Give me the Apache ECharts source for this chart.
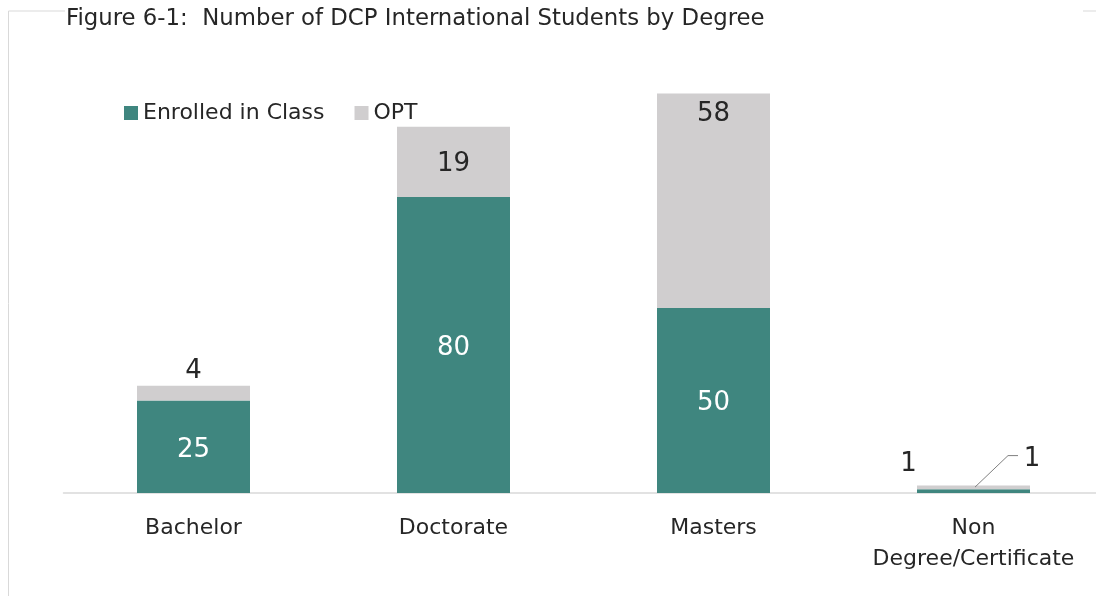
<!DOCTYPE html>
<html>
<head>
<meta charset="utf-8">
<script src="https://cdn.jsdelivr.net/npm/echarts@6/dist/echarts.min.js"></script>
<style>
  html, body { margin: 0; padding: 0; background: #fff; }
  #chart { width: 1096px; height: 596px; }
</style>
</head>
<body>
<div id="chart"></div>
<script>
var degrees = ['Bachelor', 'Doctorate', 'Masters', 'Non\nDegree/Certificate'];
var enrolled = [25, 80, 50, 1];
var opt = [4, 19, 58, 1];

var font = 'DejaVu Sans';
var teal = '#3f867f';
var grey = '#d0cecf';
var ink = '#262626';

var chart = echarts.init(document.getElementById('chart'));

// label placement per bar, the small ones sit outside
var enrolledData = enrolled.map(function (v, i) {
  var d = { value: v };
  if (i == 3) {
    d.label = { position: 'top', color: ink, offset: [-65, -7] };
  }
  return d;
});
var optData = opt.map(function (v, i) {
  var d = { value: v };
  if (i == 0) d.label = { position: 'top', distance: 3 };
  if (i == 2) d.label = { position: 'insideTop', distance: 6 };
  if (i == 3) d.label = { show: false };  // drawn by the callout below
  return d;
});

// callout with leader line for the last OPT value
function renderCallout(params, api) {
  var p = api.coord([api.value(0), api.value(1)]);
  return {
    type: 'group',
    children: [
      {
        type: 'polyline',
        shape: { points: [[p[0] + 1.5, p[1] + 1.5], [p[0] + 34.5, p[1] - 30], [p[0] + 44.5, p[1] - 30]] },
        style: { stroke: '#7f7f7f', lineWidth: 1, fill: null }
      },
      {
        type: 'text',
        x: p[0] + 58.5,
        y: p[1] - 26,
        style: { text: String(api.value(2)), font: '26px "DejaVu Sans"', fill: ink, align: 'center', verticalAlign: 'middle' }
      }
    ]
  };
}

var option = {
  animation: false,
  title: {
    text: 'Figure 6-1:  Number of DCP International Students by Degree',
    left: 61,
    top: 3,
    textStyle: { fontFamily: font, fontSize: 22.8, fontWeight: 'normal', color: ink }
  },
  legend: {
    left: 119,
    top: 97,
    icon: 'rect',
    itemWidth: 14,
    itemHeight: 14,
    itemGap: 30,
    textStyle: { fontFamily: font, fontSize: 22, color: ink },
    data: ['Enrolled in Class', 'OPT']
  },
  graphic: [
    { type: 'polyline', shape: { points: [[65, 11], [8.5, 11], [8.5, 596]] }, style: { stroke: '#d9d9d9', lineWidth: 1, fill: null } },
    { type: 'line', shape: { x1: 1083, y1: 11, x2: 1096, y2: 11 }, style: { stroke: '#d9d9d9', lineWidth: 1 } }
  ],
  grid: { left: 63.5, width: 1040, top: 49, height: 444, outerBoundsMode: 'none' },
  xAxis: {
    type: 'category',
    data: degrees,
    axisLine: { lineStyle: { color: '#d9d9d9', width: 1.5 } },
    axisTick: { show: false },
    axisLabel: { fontFamily: font, fontSize: 22, color: ink, margin: 20, lineHeight: 31, interval: 0 }
  },
  yAxis: { type: 'value', min: 0, max: 120, show: false, splitLine: { show: false } },
  series: [
    {
      name: 'Enrolled in Class',
      type: 'bar',
      stack: 'total',
      barWidth: 113,
      itemStyle: { color: teal },
      label: { show: true, position: 'inside', offset: [0, 3], fontFamily: font, fontSize: 26, color: '#fff' },
      data: enrolledData
    },
    {
      name: 'OPT',
      type: 'bar',
      stack: 'total',
      barWidth: 113,
      itemStyle: { color: grey },
      label: { show: true, position: 'inside', offset: [0, 2], fontFamily: font, fontSize: 26, color: ink },
      data: optData
    },
    {
      name: 'callout',
      type: 'custom',
      silent: true,
      renderItem: renderCallout,
      data: [[3, enrolled[3] + opt[3], opt[3]]],
      z: 5
    }
  ]
};

chart.setOption(option);
</script>
</body>
</html>
